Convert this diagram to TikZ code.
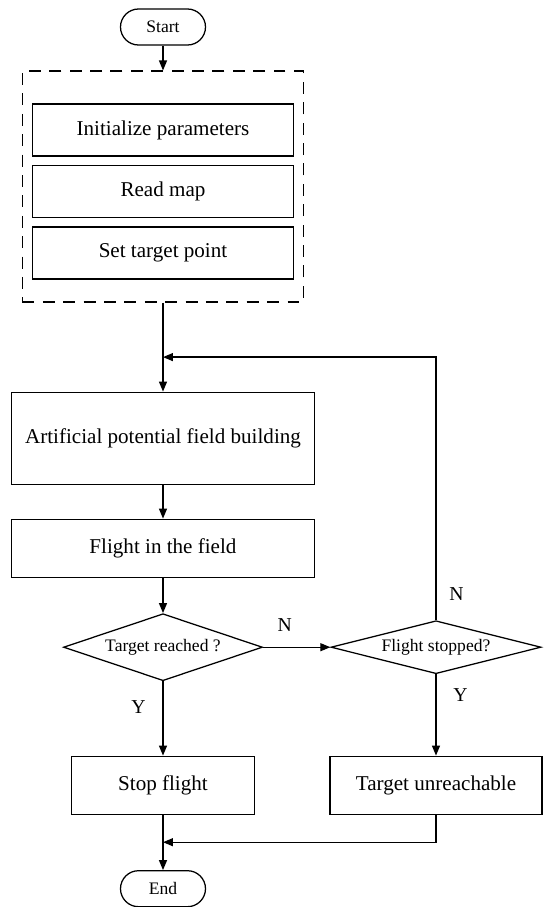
\documentclass[tikz,border=0pt]{standalone}
\usepackage{fontspec}
\setmainfont{Liberation Serif}
\usepackage{tikz}
\usetikzlibrary{arrows.meta,shapes.geometric}
\tikzstyle{terminator} = [rectangle, draw, text centered, rounded corners = 0.45cm, minimum width=2.125cm, minimum height=0.9cm, font=\fontsize{12.5}{15}\selectfont]
\tikzstyle{process} = [rectangle, draw, text centered, minimum height=1.45cm, font=\fontsize{15}{18}\selectfont]
\tikzstyle{decision} = [diamond, draw, text centered, inner sep=1pt, font=\fontsize{12.5}{15}\selectfont]
\tikzstyle{dashedbox} = [rectangle, draw, dash pattern=on 8.5pt off 6pt, minimum width=7.025cm, minimum height=5.775cm]
\tikzstyle{connector} = [line width=0.9pt, -{Triangle[length=2.5mm, width=2mm]}]
\tikzstyle{answer} = [font=\fontsize{14}{17}\selectfont]

\begin{document}
\begin{tikzpicture}[line width=0.9pt]
        \useasboundingbox (-4.075,0.675) rectangle (9.575,-22);
        \node (start) [terminator] {Start};
        \node (group) [dashedbox, below of = start, yshift = -2.99cm] {};
        \node (init) [process, below of = start, yshift = -1.575cm, minimum width = 6.525cm, minimum height = 1.3cm] {Initialize parameters};
        \node (read-map) [process, below of = init, yshift = -0.5375cm, minimum width = 6.525cm, minimum height = 1.3cm] {Read map};
        \node (set-target) [process, below of = read-map, yshift = -0.5375cm, minimum width = 6.525cm, minimum height = 1.3cm] {Set target point};
        \coordinate [below of = group, yshift = -3.2625cm] (loop);
        \node (field) [process, below of = group, yshift = -5.29cm, minimum width = 7.575cm, minimum height = 2.3cm] {Artificial potential field building};
        \node (flight) [process, below of = field, yshift = -1.75cm, minimum width = 7.575cm] {Flight in the field};
        \node (reached) [decision, aspect = 2.97, below of = flight, yshift = -1.475cm, minimum width = 4.975cm, minimum height = 1.675cm] {Target reached ?};
        \node (stopped) [decision, aspect = 3.96, right of = reached, xshift = 5.825cm, minimum width = 5.25cm, minimum height = 1.325cm] {Flight stopped?};
        \node (stop-flight) [process, below of = reached, yshift = -2.45cm, minimum width = 4.575cm] {Stop flight};
        \node (unreachable) [process, right of = stop-flight, xshift = 5.825cm, minimum width = 5.3cm] {Target unreachable};
        \coordinate [below of = stop-flight, yshift = -0.425cm] (join);
        \node (end) [terminator, below of = stop-flight, yshift = -1.5875cm] {End};
        \draw [connector] (start) -- (group);
        \draw [connector] (group) -- (field);
        \draw [connector] (field) -- (flight);
        \draw [connector] (flight) -- (reached);
        \draw [connector] (reached) -- node[answer, above=0.25cm, xshift=-0.3cm] {N} (stopped);
        \draw [connector] (reached) -- node[answer, left=0.3cm, pos=0.35] {Y} (stop-flight);
        \draw [connector] (stopped.north) |- node[answer, right=0.2cm, pos=0.05] {N} (loop);
        \draw [connector] (stopped) -- node[answer, right=0.3cm, pos=0.25] {Y} (unreachable);
        \draw [connector] (stop-flight) -- (end);
        \draw [connector] (unreachable.south) |- (join);
    \end{tikzpicture}
\end{document}
